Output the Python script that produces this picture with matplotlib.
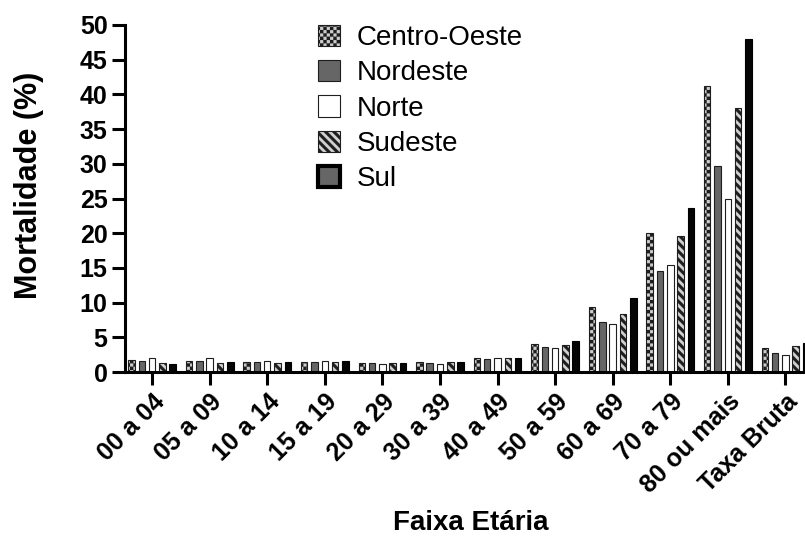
import numpy as np
import matplotlib
matplotlib.use('Agg')
import matplotlib.pyplot as plt
import matplotlib.hatch as mh
from matplotlib.path import Path
from matplotlib.patches import Patch

# ---------------- data ----------------
groups = ["00 a 04", "05 a 09", "10 a 14", "15 a 19", "20 a 29", "30 a 39",
          "40 a 49", "50 a 59", "60 a 69", "70 a 79", "80 ou mais", "Taxa Bruta"]
series_names = ["Centro-Oeste", "Nordeste", "Norte", "Sudeste", "Sul"]
centro_oeste = [1.7, 1.6, 1.4, 1.4, 1.3, 1.5, 2.0, 4.1, 9.3, 20.0, 41.2, 3.4]
nordeste = [1.6, 1.6, 1.4, 1.4, 1.3, 1.3, 1.9, 3.6, 7.2, 14.6, 29.7, 2.8]
norte = [2.0, 2.0, 1.6, 1.6, 1.2, 1.2, 2.0, 3.4, 6.9, 15.4, 25.0, 2.4]
sudeste = [1.3, 1.3, 1.3, 1.4, 1.3, 1.4, 2.0, 3.9, 8.4, 19.6, 38.0, 3.7]
sul = [1.2, 1.4, 1.4, 1.6, 1.3, 1.4, 2.0, 4.4, 10.6, 23.7, 48.0, 4.2]
y_ticks = [0, 5, 10, 15, 20, 25, 30, 35, 40, 45, 50]


# ---------------- custom hatches (checkerboard and thick stripes) ----------------
class CheckerHatch(mh.HatchPatternBase):
    def __init__(self, hatch, density):
        n = hatch.count('*') * density
        if n % 2:
            n += 1
        self.n = n
        self.num_vertices = 5 * (n * n // 2) if n else 0

    def set_vertices_and_codes(self, vertices, codes):
        n = self.n
        s = 1.0 / n
        verts = []
        for i in range(n):
            for j in range(n):
                if (i + j) % 2 == 0:
                    x0, y0 = i * s, j * s
                    verts.append([[x0, y0], [x0 + s, y0], [x0 + s, y0 + s],
                                  [x0, y0 + s], [x0, y0]])
        vertices[:] = np.array(verts, dtype=float).reshape(-1, 2)
        c = np.array([Path.MOVETO, Path.LINETO, Path.LINETO, Path.LINETO,
                      Path.CLOSEPOLY], dtype=Path.code_type)
        codes[:] = np.tile(c, len(verts))


class StripeHatch(mh.HatchPatternBase):
    def __init__(self, hatch, density):
        m = hatch.count('O') * density
        self.m = m
        self.ks = list(range(-2, 2 * m + 2)) if m else []
        self.num_vertices = 5 * len(self.ks)

    def set_vertices_and_codes(self, vertices, codes):
        m = self.m
        w = 0.5 / m
        verts = []
        for k in self.ks:
            c = k / m
            verts.append([[-1, c + 1], [c + 1, -1], [c + w + 1, -1],
                          [-1, c + w + 1], [-1, c + 1]])
        vertices[:] = np.array(verts, dtype=float).reshape(-1, 2)
        cc = np.array([Path.MOVETO, Path.LINETO, Path.LINETO, Path.LINETO,
                       Path.CLOSEPOLY], dtype=Path.code_type)
        codes[:] = np.tile(cc, len(verts))


mh._hatch_types = [t for t in mh._hatch_types
                   if t not in (mh.Stars, mh.LargeCircles)] + [CheckerHatch, StripeHatch]

plt.rcParams['font.family'] = ['Liberation Sans', 'DejaVu Sans']
plt.rcParams['hatch.linewidth'] = 0.1

fig = plt.figure(figsize=(8.05, 5.49), dpi=100)
ax = fig.add_axes([125 / 805, 1 - 372 / 549, 1 - 125 / 805, (372 - 25) / 549])

values = [centro_oeste, nordeste, norte, sudeste, sul]
styles = [
    dict(facecolor='#cdcdcd', edgecolor='#1e1e1e', hatch='*****', linewidth=0.8),
    dict(facecolor='#666666', edgecolor='#1e1e1e', linewidth=0.8),
    dict(facecolor='white', edgecolor='#1e1e1e', linewidth=0.8),
    dict(facecolor='#d2d2d2', edgecolor='#1e1e1e', hatch='OO', linewidth=0.8),
    dict(facecolor='#050505', edgecolor='black', linewidth=0.8),
]
x = np.arange(len(groups))
step = 0.179
width = 0.113
for i, (vals, st) in enumerate(zip(values, styles)):
    ax.bar(x + (i - 2) * step, vals, width=width, **st)

ax.set_xlim(-0.47, 11.34)
ax.set_ylim(0, 50)
ax.set_yticks(y_ticks)
ax.set_xticks(x)
ax.set_xticklabels(groups, rotation=45, ha='right', rotation_mode='anchor')

for s in ['top', 'right']:
    ax.spines[s].set_visible(False)
for s in ['left', 'bottom']:
    ax.spines[s].set_linewidth(2.2)
ax.tick_params(axis='both', length=9.5, width=2.2, labelsize=18, pad=3)
for lab in ax.get_xticklabels() + ax.get_yticklabels():
    lab.set_fontweight('bold')

fig.text(29 / 805, 1 - 185 / 549, 'Mortalidade (%)', rotation=90, ha='center',
         va='center', fontsize=22, fontweight='bold')
fig.text(471 / 805, 1 - 523 / 549, 'Faixa Etária', ha='center', va='center',
         fontsize=20, fontweight='bold')

legend_styles = styles[:4] + [dict(facecolor='#666666', edgecolor='black', linewidth=3)]
handles = [Patch(**st) for st in legend_styles]
fig.legend(handles, series_names, loc='upper left',
           bbox_to_anchor=(318 / 805, 1 - 25 / 549), bbox_transform=fig.transFigure,
           frameon=False, fontsize=20, handlelength=0.8, handleheight=0.8,
           handletextpad=0.6, labelspacing=0.32, borderpad=0, borderaxespad=0)

fig.savefig('out.png', dpi=100)
